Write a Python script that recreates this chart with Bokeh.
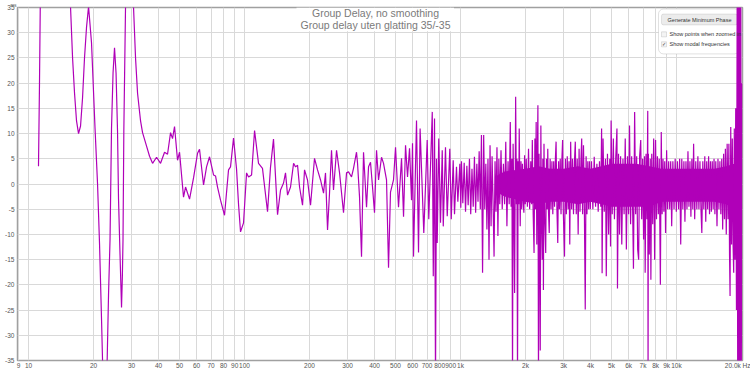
from bokeh.plotting import figure
from bokeh.models import FixedTicker, BoxAnnotation, Label, Title
from bokeh.embed import file_html
from bokeh.resources import INLINE

# ---- data (frequency in Hz, group delay in ms) ----
freq_lf = [11.12, 11.24, 11.36, 11.6, 12.5, 13.8, 14.9, 15.4, 15.65, 15.99,
           16.33, 16.68, 17.04, 17.41, 17.78, 18.16, 18.55, 18.96, 19.57, 20.32,
           20.87, 21.32, 21.78, 22.01, 22.48, 22.8, 23.13, 23.46, 23.84, 24.22,
           24.62, 25.01, 25.42, 25.82, 26.10, 26.52, 26.95, 27.2, 27.38, 27.62,
           28.12, 28.72, 29.35, 29.98, 30.63, 31.29, 31.97, 33.01, 33.72, 35.19,
           36.33, 37.52, 39.15, 40.85, 42.63, 44.01, 45.45, 46.42, 47.42, 48.96,
           50.02, 52.19, 53.33, 55.65, 58.07, 60.60, 61.90, 64.61, 66.71, 68.87,
           71.87, 73.41, 74.99, 77.43, 80.80, 84.32, 86.13, 88.93, 91.83, 93.81,
           95.83, 98.95, 102.2, 104.4, 107.8, 111.3, 116.1, 121.1, 127.8, 131.9,
           136.2, 142.2, 146.8, 151.6, 154.8, 158.2, 163.3, 168.7, 172.3, 176.0,
           179.8, 185.6, 189.6, 195.7, 202.1, 210.9, 217.8, 224.9, 232.2, 237.1, 242.3, 247.5]
gd_lf = [3.5, 20, 40, 80, 160, 150, 90, 50, 35, 25,
         18, 12.5, 10, 11.5, 17, 25, 31, 35.2, 28, 11,
         0, -12, -27, -35, -42, -40, -34.7, -22, -11, 11,
         22, 27, 22, 10.6, -3, -14, -24.5, -18, -11, 10.6,
         35, 70, 95, 70, 35, 25, 18, 12.5, 10.2, 7.5,
         5.5, 4.1, 5.3, 4.1, 6.3, 5.9, 10.2, 9.0, 11.4, 4.7,
         6.3, -2.6, -0.6, -3.0, 1.2, 6.1, 6.9, -0.2, 3.4, 5.4,
         1.8, 1.6, -0.6, -3.2, -6.2, 2.8, 3.4, 9.1, 3.0, -4.0,
         -9.5, -7.7, 2.2, 1.4, 1.8, 10.6, 4.1, 3.1, -5.5, 3.3,
         8.9, -6.1, -1.2, 0.2, 2.2, -2.2, -0.6, 4.1, 3.4, 3.7,
         -0.6, -4.2, 2.8, 0.8, -4.2, 5.1, 2.8, 0.8, -1.8, 2.2, -9.1, -1.8]

freq_mf = [252.8, 258.2, 266.7, 275.4, 287.3, 296.7, 303.1, 312.9, 319.6, 330.0,
           333.6, 340.8, 348.1, 355.6, 367.2, 375.1, 383.1, 391.4, 399.8, 408.5,
           417.3, 430.8, 440.1, 454.4, 464.2, 474.1, 489.5, 500.2, 516.4, 533.3,
           544.8, 556.5, 568.4, 580.7, 593.1, 599.5, 605.9, 625.6, 639.1, 650,
           676, 701, 713, 740, 748, 758, 766, 774, 780, 793,
           808, 823, 832, 852, 868, 892, 906, 925, 938, 958,
           972, 993, 1003]
gd_mf = [6.7, -1.2, 6.7, 2.2, -5.7, 2.2, 2.4, 1.4, 3.1, 6.3,
         4.1, -2.6, -14.4, 6.3, -4.6, 3.4, 4.3, -0.6, -5.7, 6.7,
         0.8, 5.3, 4.1, 0.8, -16.6, -1.6, 0.8, 7.3, -4.6, 5.1,
         -6.5, 7.7, 1.4, 7.1, -3.2, 8.1, -14.4, 12.6, -13.6, 11.0,
         -9.7, 8.7, -7.0, 14.3, -18.3, 13.0, -40, 5.0, -11.7, 9.0,
         -7.7, 6.7, -8.4, 7.3, -6.4, 7.0, -7.0, 4.7, -6.0, 3.4,
         -3.5, 4.0, -4.7]

band_1k = [(1010, 4.5), (1025, -3.8), (1040, 4.2), (1055, -5.5), (1070, 3.6), (1085, -4.2),
           (1100, 5.0), (1115, -6.0), (1130, 3.0), (1145, -4.5), (1160, 5.4), (1175, -5.7),
           (1190, 4.0), (1205, -3.5), (1220, 6.5), (1235, -5.0), (1250, 9.7), (1265, -17.6),
           (1280, 9.7), (1295, -5.0), (1310, 4.0), (1325, -9.0), (1340, 5.0), (1355, -15.0),
           (1370, 7.7), (1385, -8.4), (1400, 5.5), (1415, -4.0), (1430, -14.4), (1445, 4.5),
           (1460, -5.5), (1475, 7.3), (1490, -10.3),
           (1505, 5.0), (1520, -4.0), (1540, 6.7), (1560, -5.0), (1580, 4.0), (1600, -4.0),
           (1620, 8.4), (1640, -8.4), (1660, 4.5), (1680, -4.0), (1700, 12.3), (1715, -4.5),
           (1730, 5.0), (1741, -40), (1752, 8.0), (1765, -4.0), (1780, -21.6), (1800, 17.3),
           (1815, -4.0), (1825, 5.0), (1836, -40), (1848, 4.5), (1860, -4.0), (1870, 11.0),
           (1890, -8.4), (1905, 4.5), (1920, -5.0), (1935, 4.0), (1950, -3.5), (1965, -5.7),
           (1980, 5.7), (1995, -4.0)]

band_2k = [(2015, 5.0), (2040, -4.5), (2065, 7.0), (2090, -5.0), (2115, 4.5), (2135, -4.0),
           (2150, 8.7), (2170, -6.0), (2190, -13.7), (2210, 9.0), (2225, -5.0), (2240, 12.3),
           (2255, -12.0), (2270, 6.0), (2282, 15.6), (2296, -40), (2310, 6.0), (2325, -10.0),
           (2340, -33), (2355, 11.6), (2370, -6.0), (2390, -15.0), (2405, 5.0), (2420, -21.0),
           (2435, 8.0), (2455, -7.0), (2480, -13.7), (2500, 5.0), (2520, -5.0), (2535, 7.0),
           (2555, -5.5), (2575, -9.7), (2600, 5.0), (2625, -5.0), (2650, 4.5), (2675, -6.0),
           (2700, 4.5), (2725, -4.5), (2750, 5.0), (2770, 8.4), (2795, -5.0), (2820, -11.7),
           (2845, 4.5), (2870, -5.0), (2895, 5.0), (2920, -6.0), (2945, 4.5), (2970, 8.7),
           (2990, -5.0), (3030, -14.4), (3060, 5.0), (3090, -6.0), (3120, 5.5), (3150, -5.0),
           (3180, 4.5), (3205, -12.0), (3236, 8.4), (3270, -5.0), (3300, 5.0), (3335, -6.0),
           (3370, 4.5), (3400, 8.4), (3435, -6.0), (3470, 5.0), (3505, -10.0), (3540, 7.0),
           (3575, -5.5), (3610, 4.5), (3640, 9.0), (3675, -6.0), (3710, 7.7), (3745, -5.0),
           (3780, -24.9), (3815, 5.5), (3850, -6.0), (3885, 4.5), (3920, -5.0), (3955, 4.5),
           (3990, -5.0)]

band_4k = [(4040, 4.5), (4100, -5.0), (4160, 5.4), (4220, -4.5), (4280, 4.0), (4340, -5.5),
           (4400, 4.5), (4460, -4.5), (4500, 11.0), (4525, -17.7), (4570, 9.0), (4630, -5.5),
           (4690, 5.0), (4730, -18.3), (4790, 6.0), (4850, -10.0), (4910, 5.0), (4950, -12.4),
           (4980, 12.6), (5040, -6.0), (5100, 9.0), (5160, -7.0), (5230, 5.0), (5300, 11.0),
           (5330, -20.7), (5390, 6.0), (5450, -10.0), (5510, 5.5), (5580, -12.0), (5650, 5.0),
           (5720, -6.0), (5790, 9.0), (5860, -13.0), (5930, 5.5), (6000, -6.0), (6060, 11.6),
           (6130, -8.0), (6200, 5.5), (6270, -6.0), (6320, -16.8), (6400, 14.3), (6470, -6.0),
           (6540, 5.5), (6610, -13.0), (6680, -15.0), (6750, 5.5), (6830, 8.7), (6900, -7.0),
           (6970, 5.0), (7040, -11.0), (7110, 5.5), (7160, -17.6), (7230, 6.0), (7300, -7.0),
           (7360, 14.5), (7385, -40), (7410, 6.0), (7480, -14.0), (7560, 5.0), (7610, -19.0),
           (7680, 6.0), (7760, -8.0), (7840, 9.0), (7920, -15.0), (8000, 8.7)]

band_8k = [(8080, -7.0), (8160, 5.5), (8240, -6.0), (8320, 5.0), (8420, -20.0), (8500, 10.3),
           (8580, -6.0), (8660, 5.0), (8740, -5.5), (8820, 4.5), (8900, -9.7), (9000, 6.7),
           (9100, -5.0), (9200, 4.5), (9300, -5.0), (9400, 4.5), (9500, -8.4), (9620, 4.5),
           (9740, -5.0), (9860, 5.0), (9980, -5.5), (10100, 4.5), (10220, -5.0), (10340, 5.0),
           (10460, -12.0), (10580, 5.0), (10700, -5.0), (10820, 4.5), (10940, -7.5), (11060, 4.5),
           (11180, -5.0), (11300, 6.5), (11420, -4.5), (11540, 4.5), (11660, -6.5), (11780, 5.0),
           (11900, -5.0), (12000, 8.0), (12140, -7.0), (12280, 4.5), (12420, -5.0), (12560, 5.5),
           (12700, -5.0), (12840, 4.5), (12980, -5.0), (13100, -9.7), (13240, 4.5), (13380, -5.0),
           (13520, 5.5), (13660, -7.5), (13800, 4.5), (13940, -5.0), (14080, 5.5), (14220, -6.0),
           (14360, 4.5), (14500, -5.5), (14640, 4.5), (14780, -5.0), (14920, 5.0), (15060, -6.0),
           (15200, 4.5), (15400, -8.4), (15560, 5.0), (15720, -5.0), (15880, 4.5)]

band_16k = [(16040, -6.0), (16200, 5.0), (16360, -9.0), (16520, 6.0), (16680, -7.0), (16840, 7.0),
            (17000, -10.0), (17160, 8.0), (17320, -7.0), (17480, 8.0), (17600, -14.0), (17700, -22.2),
            (17830, 11.3), (17980, -12.0), (18130, 9.0), (18280, -12.0), (18400, -17.6), (18520, 11.0),
            (18660, -15.0), (18800, 15.0), (18950, -25.0), (19100, 40), (19200, -40), (19320, 60),
            (19450, -60), (19580, 60), (19700, -60), (19820, 50), (19940, -50), (20050, 20)]

# solid core of the dense high-frequency trace (envelope)
core_freq = [1450, 1600, 2000, 2300, 2600, 3000, 3500, 4000, 4500, 5000,
             5500, 6500, 7500, 8500, 10000, 12000, 15000, 17000, 18500, 19800]
core_hi = [1.5, 2.5, 3.0, 3.5, 3.0, 3.0, 3.5, 3.0, 3.5, 4.0,
           4.0, 4.0, 3.5, 3.0, 3.0, 3.0, 3.0, 3.5, 4.0, 4.5]
core_lo = [-1.5, -2.5, -3.5, -4.0, -3.5, -3.5, -4.0, -3.5, -4.0, -4.5,
           -4.5, -4.5, -4.5, -3.5, -3.5, -3.5, -3.5, -4.0, -5.0, -6.0]

x_ticks = [9, 10, 20, 30, 40, 50, 60, 70, 80, 90, 100, 200, 300, 400, 500, 600, 700, 800, 900,
           1000, 2000, 3000, 4000, 5000, 6000, 7000, 8000, 9000, 10000, 20000]
x_tick_labels = ["9", "10", "20", "30", "40", "50", "60", "70", "80", "90", "100", "200", "300",
                 "400", "500", "600", "700", "800", "900", "1k", "2k", "3k", "4k", "5k", "6k",
                 "7k", "8k", "9k", "10k", "20.0k Hz"]
y_ticks = [-35, -30, -25, -20, -15, -10, -5, 0, 5, 10, 15, 20, 25, 30, 35]
y_tick_labels = ["-35", "-30", "-25", "-20", "-15", "-10", "-5", "0", "5", "10", "15", "20",
                 "25", "30", "35"]
y_unit = "ms"

title_lines = ["Group Delay, no smoothing", "Group delay uten glatting 35/-35"]
panel_button = "Generate Minimum Phase"
panel_checks = ["Show points when zoomed in", "Show modal frequencies"]

# ---- assemble the series ----
hf = band_1k + band_2k + band_4k + band_8k + band_16k
freq = freq_lf + freq_mf + [f for f, _ in hf]
gd = gd_lf + gd_mf + [v for _, v in hf]

FONT = "Liberation Sans"
LINE = "#b000b8"
p = figure(width=750, height=371, x_axis_type="log", x_range=(8.89, 20210), y_range=(-35, 35),
           output_backend="svg", toolbar_location=None,
           min_border_left=17, min_border_right=8, min_border_top=6, min_border_bottom=10,
           background_fill_color="white", border_fill_color="white",
           outline_line_color="#a0a0a0", outline_line_width=1.5)

xt = FixedTicker(ticks=x_ticks)
yt = FixedTicker(ticks=y_ticks)
p.xaxis.ticker = xt
p.yaxis.ticker = yt
p.xgrid.ticker = xt
p.ygrid.ticker = yt
p.xaxis.major_label_overrides = {t: lab for t, lab in zip(x_ticks, x_tick_labels)}
p.yaxis.major_label_overrides = {t: lab for t, lab in zip(y_ticks, y_tick_labels)}
for ax in (p.xaxis, p.yaxis):
    ax.axis_line_color = None
    ax.major_tick_line_color = None
    ax.minor_tick_line_color = None
    ax.major_tick_out = 0
    ax.major_tick_in = 0
    ax.minor_tick_out = 0
    ax.minor_tick_in = 0
    ax.major_label_text_font_size = "6.5px"
    ax.major_label_text_color = "#555555"
    ax.major_label_text_font = FONT
p.xaxis.major_label_standoff = 1
p.yaxis.major_label_standoff = 3
for g in (p.xgrid, p.ygrid):
    g.grid_line_color = "#d9d9d9"
    g.grid_line_width = 1

# unit caption above the value axis
p.add_layout(Title(text=y_unit, align="left", offset=-7, standoff=0, text_font=FONT,
                   text_font_size="4.5px", text_font_style="normal", text_color="#555555"), "above")

# white area behind the title
p.add_layout(BoxAnnotation(left=174, right=933, bottom=30.3, top=35, fill_color="white",
                           fill_alpha=1, line_alpha=0, level="underlay"))
# option panel (top right)
p.add_layout(BoxAnnotation(left=8254, right=19570, bottom=25.8, top=34.7, fill_color="white",
                           fill_alpha=1, line_color="#9a9a9a", line_width=1, border_radius=5,
                           level="underlay"))
p.add_layout(BoxAnnotation(left=8520, right=19160, bottom=31.55, top=33.7, fill_color="#ececec",
                           fill_alpha=1, line_color="#a8a8a8", line_width=1, border_radius=2,
                           level="underlay"))
p.add_layout(BoxAnnotation(left=8520, right=8990, bottom=29.18, top=30.17, fill_color="#f4f4f4",
                           fill_alpha=1, line_color="#8c8c8c", line_width=0.8, level="underlay"))
p.add_layout(BoxAnnotation(left=8520, right=8990, bottom=27.2, top=28.2, fill_color="#f4f4f4",
                           fill_alpha=1, line_color="#8c8c8c", line_width=0.8, level="underlay"))

p.varea(x=core_freq, y1=core_lo, y2=core_hi, fill_color=LINE, fill_alpha=1)
p.line(freq, gd, line_width=1.2, line_color=LINE)

p.add_layout(Label(x=404, y=33.9, text=title_lines[0], text_align="center", text_baseline="middle",
                   text_font=FONT, text_font_size="10.5px", text_color="#7a7a7a"))
p.add_layout(Label(x=404, y=31.6, text=title_lines[1], text_align="center", text_baseline="middle",
                   text_font=FONT, text_font_size="10.5px", text_color="#7a7a7a"))
p.add_layout(Label(x=12780, y=32.6, text=panel_button, text_align="center", text_baseline="middle",
                   text_font=FONT, text_font_size="5.5px", text_color="#333333"))
p.add_layout(Label(x=9282, y=29.67, text=panel_checks[0], text_align="left", text_baseline="middle",
                   text_font=FONT, text_font_size="5.5px", text_color="#333333"))
p.add_layout(Label(x=9282, y=27.7, text=panel_checks[1], text_align="left", text_baseline="middle",
                   text_font=FONT, text_font_size="5.5px", text_color="#333333"))
p.add_layout(Label(x=8750, y=27.7, text="\u2713", text_align="center", text_baseline="middle",
                   text_font="DejaVu Sans", text_font_size="5px", text_color="#333333"))

open("out.html", "w").write(file_html(p, INLINE, title="Group Delay"))
